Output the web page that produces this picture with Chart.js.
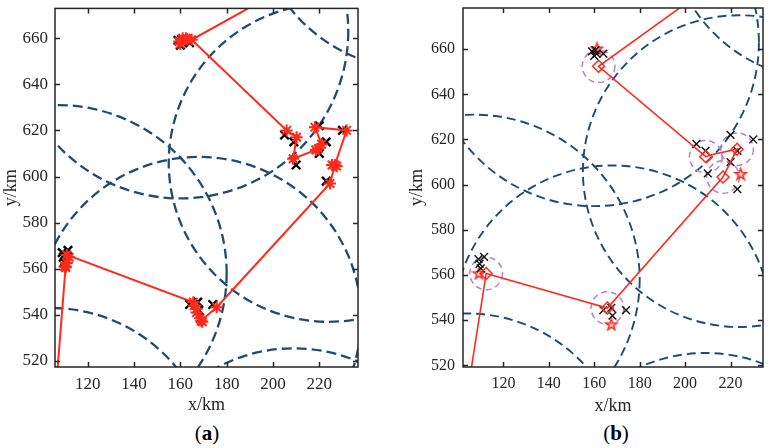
<!DOCTYPE html>
<html>
<head>
<meta charset="utf-8">
<script src="https://cdn.jsdelivr.net/npm/chart.js@4.4.1/dist/chart.umd.min.js"></script>
<style>
  body { margin: 0; background: #fff; width: 771px; height: 448px; position: relative; overflow: hidden; font-family: "Liberation Serif", serif; }
  canvas { position: absolute; top: 0; }
  .tag { position: absolute; top: 420px; font-size: 21px; color: #000; width: 80px; text-align: center; line-height: 26px; }
</style>
</head>
<body>
<canvas id="chartA" width="390" height="420" style="left:0"></canvas>
<canvas id="chartB" width="381" height="420" style="left:390px"></canvas>
<div class="tag" style="left:167px">(<b>a</b>)</div>
<div class="tag" style="left:576px">(<b>b</b>)</div>
<script>
"use strict";

// tick labels
const xTicks = [120, 140, 160, 180, 200, 220];
const yTicks = [520, 540, 560, 580, 600, 620, 640, 660];

// base station coverage circles (km)
const cellX = [107, 224, 168, 160, 262, 209, 104];
const cellY = [558, 606, 538.5, 663, 716, 455.5, 473];
const cellR = [73, 69, 70, 72.5, 69.5, 70, 70];

// targets (black x)
const userX = [159, 160.5, 160, 161, 164, 205, 209, 210, 220, 223, 220, 230, 223, 109, 111.5, 109.5, 110, 164, 167.5, 168, 174];
const userY = [659, 659.5, 657, 658, 658, 618, 615, 605, 622, 615, 610, 620, 598, 567, 568, 565, 563, 544.5, 545.5, 542, 544.5];

// (a) route through the estimated points
const routeAX = [202, 164.9, 205.9, 210.2, 208.7, 218.5, 221, 218.1, 231.8, 226.7, 224.6, 175.7, 169, 167, 165.6, 111, 110.5, 106.1];
const routeAY = [680, 659.3, 620, 617, 607.7, 611.5, 614, 621.4, 620, 605, 597, 543.3, 537.5, 542.5, 545.5, 566, 561, 505];
// (a) other estimated points
const estAX = [160, 161, 162.5, 159.5, 163, 110, 111, 112, 110.5, 166, 167, 168.5, 169.5, 225.5, 227.5, 219.5];
const estAY = [657.5, 660, 660, 658.5, 659.5, 561, 562.5, 565, 560.5, 544, 541, 538.5, 537, 605, 604.5, 612];

// (b) route and hover nodes
const routeBX = [207, 161.9, 209.1, 212.5, 222.9, 216.7, 165.8, 112.4, 104.5];
const routeBY = [685, 652.4, 612.4, 613.5, 615.7, 603.4, 545.4, 560.7, 510];
const nodeBX = [161.9, 209.1, 222.9, 216.7, 165.8, 112.4];
const nodeBY = [652.4, 612.4, 615.7, 603.4, 545.4, 560.7];
const nodeR = 7.2;
// (b) emitter estimates (pentagrams)
const emitBX = [161.2, 224.5, 167.5, 109.2];
const emitBY = [660.5, 605, 538.4, 561];

const RED = '#ff2a1c';
const BLUE = '#1f4b73';
const AXIS = '#262626';

const pts = (xs, ys) => xs.map((v, i) => ({ x: v, y: ys[i] }));

function pentagram(size, color, lw) {
  const c = document.createElement('canvas');
  c.width = c.height = size;
  const g = c.getContext('2d');
  const r = size / 2 - lw, ri = r * 0.4;
  g.beginPath();
  for (let k = 0; k < 10; k++) {
    const a = -Math.PI / 2 + k * Math.PI / 5;
    const rr = k % 2 ? ri : r;
    g.lineTo(size / 2 + rr * Math.cos(a), size / 2 + 1 + rr * Math.sin(a));
  }
  g.closePath();
  g.fillStyle = 'rgba(255,120,110,0.35)';
  g.fill();
  g.strokeStyle = color;
  g.lineWidth = lw;
  g.stroke();
  return c;
}

// dashed coverage circles, rings and the MATLAB style box
const cellPlugin = {
  id: 'cells',
  beforeDatasetsDraw(chart, args, opts) {
    const { ctx, chartArea: a, scales: { x, y } } = chart;
    const ring = (cx, cy, r) => {
      const px = x.getPixelForValue(cx), py = y.getPixelForValue(cy);
      const rx = Math.abs(x.getPixelForValue(cx + r) - px);
      const ry = Math.abs(y.getPixelForValue(cy + r) - py);
      ctx.beginPath();
      ctx.ellipse(px, py, rx, ry, 0, 0, 2 * Math.PI);
      ctx.stroke();
    };
    ctx.save();
    ctx.beginPath();
    ctx.rect(a.left, a.top, a.width, a.height);
    ctx.clip();
    ctx.strokeStyle = BLUE;
    ctx.lineWidth = opts.lw;
    ctx.setLineDash(opts.dash);
    cellX.forEach((cx, i) => ring(cx, cellY[i], cellR[i]));
    if (opts.rings) {
      ctx.strokeStyle = '#b283cc';
      ctx.lineWidth = 1.5;
      ctx.setLineDash([6, 4]);
      nodeBX.forEach((cx, i) => ring(cx, nodeBY[i], nodeR));
    }
    ctx.restore();
  },
  afterDraw(chart) {
    const { ctx, chartArea: a, scales: { x, y } } = chart;
    ctx.save();
    ctx.strokeStyle = AXIS;
    ctx.lineWidth = 1.5;
    ctx.strokeRect(a.left, a.top, a.width, a.height);
    ctx.beginPath();
    xTicks.forEach(v => {
      const p = Math.round(x.getPixelForValue(v)) + 0.5;
      ctx.moveTo(p, a.bottom); ctx.lineTo(p, a.bottom - 5);
      ctx.moveTo(p, a.top); ctx.lineTo(p, a.top + 5);
    });
    yTicks.forEach(v => {
      const p = Math.round(y.getPixelForValue(v)) + 0.5;
      ctx.moveTo(a.left, p); ctx.lineTo(a.left + 5, p);
      ctx.moveTo(a.right, p); ctx.lineTo(a.right - 5, p);
    });
    ctx.stroke();
    ctx.restore();
  }
};

function axes(xr, yr, s) {
  const font = { family: '"Liberation Serif", serif', size: s.tick };
  const tfont = { family: '"Liberation Serif", serif', size: 18 };
  return {
    x: {
      type: 'linear', min: xr[0], max: xr[1],
      afterBuildTicks: sc => { sc.ticks = xTicks.map(v => ({ value: v })); },
      afterFit: sc => { sc.height = 53; sc.paddingLeft = 0; sc.paddingRight = 0; },
      grid: { display: false, drawTicks: false },
      border: { display: false },
      ticks: { font: font, color: AXIS, padding: 7, maxRotation: 0 },
      title: { display: true, text: 'x/km', font: tfont, color: AXIS, padding: { top: 0, bottom: s.xtPad } }
    },
    y: {
      type: 'linear', min: yr[0], max: yr[1],
      afterBuildTicks: sc => { sc.ticks = yTicks.map(v => ({ value: v })); },
      afterFit: sc => { sc.width = s.yw; sc.paddingTop = 0; sc.paddingBottom = 0; },
      grid: { display: false, drawTicks: false },
      border: { display: false },
      ticks: { font: font, color: AXIS, padding: s.ytickPad },
      title: { display: true, text: 'y/km', font: tfont, color: AXIS, padding: { top: s.ytPad, bottom: 0 } }
    }
  };
}

new Chart(document.getElementById('chartA'), {
  type: 'scatter',
  data: {
    datasets: [
      { data: pts(routeAX, routeAY), showLine: true, borderColor: RED, borderWidth: 2,
        pointStyle: 'star', pointRadius: 6, pointBorderColor: RED, pointBorderWidth: 2, pointBackgroundColor: RED },
      { data: pts(estAX, estAY), pointStyle: 'star', pointRadius: 6, pointBorderColor: RED, pointBorderWidth: 2 },
      { data: pts(userX, userY), pointStyle: 'crossRot', pointRadius: 6, pointBorderColor: '#000', pointBorderWidth: 2.4 }
    ]
  },
  options: {
    responsive: false, animation: false, events: [],
    layout: { padding: { left: 0, top: 5, right: 32, bottom: 0 } },
    plugins: { legend: { display: false }, tooltip: { enabled: false }, cells: { lw: 2.3, dash: [10, 5] } },
    scales: axes([105.9, 236.7], [517.4, 672.9], { tick: 17, yw: 55, ytickPad: 7, ytPad: 0, xtPad: 4 })
  },
  plugins: [cellPlugin]
});

const pent = pentagram(15, RED, 1.5);

new Chart(document.getElementById('chartB'), {
  type: 'scatter',
  data: {
    datasets: [
      { data: pts(routeBX, routeBY), showLine: true, borderColor: RED, borderWidth: 1.6, pointRadius: 0 },
      { data: pts(nodeBX, nodeBY), pointStyle: 'rectRot', pointRadius: 6, pointBorderColor: RED,
        pointBorderWidth: 1.5, pointBackgroundColor: 'rgba(0,0,0,0)' },
      { data: pts(userX, userY), pointStyle: 'crossRot', pointRadius: 5.5, pointBorderColor: '#111', pointBorderWidth: 1.4 },
      { data: pts(emitBX, emitBY), pointStyle: pent, pointRadius: 7 }
    ]
  },
  options: {
    responsive: false, animation: false, events: [],
    layout: { padding: { left: 0, top: 3, right: 3, bottom: 0 } },
    plugins: { legend: { display: false }, tooltip: { enabled: false }, cells: { lw: 1.9, dash: [9, 5], rings: true } },
    scales: axes([102.2, 234.3], [519.3, 678.2], { tick: 16, yw: 73, ytickPad: 8, ytPad: 16.5, xtPad: 2.5 })
  },
  plugins: [cellPlugin]
});
</script>
</body>
</html>
